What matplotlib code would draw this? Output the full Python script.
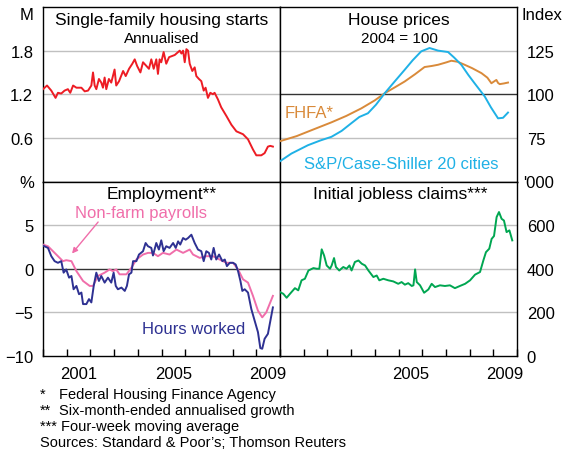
import numpy as np
import matplotlib
matplotlib.use('Agg')
import matplotlib.pyplot as plt

plt.rcParams['font.family'] = ['Liberation Sans', 'DejaVu Sans']

# ---- data: time in years since Jan 2000 ----
starts_t = [0, 0.17, 0.35, 0.53, 0.63, 0.77, 0.91, 1.05, 1.15, 1.27, 1.41, 1.62, 1.76, 1.90, 2.04,
            2.11, 2.18, 2.25, 2.36, 2.46, 2.53, 2.60, 2.67, 2.78, 2.88, 3.02, 3.09, 3.21, 3.38, 3.49,
            3.63, 3.77, 3.87, 3.97, 4.11, 4.22, 4.36, 4.47, 4.57, 4.67, 4.78, 4.85, 4.92, 4.99, 5.09,
            5.20, 5.32, 5.56, 5.70, 5.77, 5.84, 5.91, 5.98, 6.05, 6.12, 6.19, 6.30, 6.40, 6.47, 6.58,
            6.68, 6.78, 6.86, 6.96, 7.06, 7.17, 7.24, 7.38, 7.52, 7.74, 7.95, 8.16, 8.44, 8.65, 8.86,
            9.00, 9.21, 9.35, 9.49, 9.59, 9.70]
starts_v = [1.27, 1.32, 1.25, 1.15, 1.22, 1.21, 1.25, 1.27, 1.22, 1.32, 1.29, 1.29, 1.24, 1.25, 1.32,
            1.50, 1.32, 1.27, 1.41, 1.36, 1.29, 1.43, 1.27, 1.41, 1.36, 1.54, 1.32, 1.38, 1.52, 1.45,
            1.55, 1.62, 1.68, 1.59, 1.50, 1.64, 1.59, 1.55, 1.68, 1.55, 1.68, 1.48, 1.68, 1.64, 1.78,
            1.62, 1.71, 1.74, 1.78, 1.80, 1.76, 1.80, 1.64, 1.82, 1.80, 1.62, 1.52, 1.57, 1.45, 1.41,
            1.38, 1.25, 1.29, 1.15, 1.22, 1.20, 1.22, 1.13, 1.02, 0.90, 0.78, 0.69, 0.65, 0.58, 0.44,
            0.36, 0.36, 0.39, 0.48, 0.49, 0.48]

fhfa_t = [0, 0.7, 1.33, 2.17, 2.8, 3.43, 4.0, 4.42, 4.85, 5.26,
          5.7, 6.1, 6.4, 6.67, 7.0, 7.23, 7.5, 7.79, 8.1, 8.5,
          8.75, 8.92, 9.05, 9.13, 9.2, 9.27, 9.45, 9.62]
fhfa_v = [73.1, 76.0, 79.4, 83.9, 87.6, 91.9, 96.5, 100.6, 104.0, 107.3,
          111.5, 115.6, 116.2, 116.9, 118.2, 119.2, 118.6, 116.9, 115.0, 112.1,
          109.5, 106.3, 107.5, 108.2, 106.5, 105.8, 106.2, 106.7]

cs_t = [0, 0.48, 1.18, 1.7, 2.17, 2.6, 3.0, 3.35, 3.71, 4.05,
        4.42, 4.85, 5.26, 5.6, 5.96, 6.31, 6.67, 7.09, 7.35, 7.65,
        7.95, 8.21, 8.64, 8.9, 9.2, 9.41, 9.62]
cs_v = [61.6, 66.0, 70.8, 73.5, 75.6, 79.0, 83.3, 87.0, 89.1, 94.0,
        100.6, 107.5, 114.0, 119.5, 124.6, 126.5, 125.0, 124.2, 121.0, 116.9,
        111.0, 106.3, 98.7, 92.5, 86.2, 86.5, 89.5]

nfp_t = [0, 0.21, 0.42, 0.63, 0.84, 0.98, 1.20, 1.41, 1.69, 1.97, 2.11, 2.32, 2.60, 2.81, 2.95,
         3.09, 3.23, 3.52, 3.73, 3.94, 4.22, 4.43, 4.64, 4.85, 5.06, 5.34, 5.63, 5.91, 6.19, 6.33,
         6.61, 6.89, 7.17, 7.45, 7.74, 8.02, 8.23, 8.44, 8.65, 8.86, 9.07, 9.25, 9.42, 9.70]
nfp_v = [2.77, 2.58, 2.01, 1.44, 0.87, 0.98, 0.87, -0.27, -1.40, -1.97, -1.97, -0.83, -0.45, -0.08, -0.27,
         -0.08, -0.64, -0.64, 0.11, 1.06, 1.63, 1.82, 1.82, 1.44, 1.82, 1.63, 2.20, 1.82, 2.20, 1.63,
         1.25, 1.44, 1.44, 1.06, 0.68, 0.68, -0.08, -1.21, -1.59, -3.11, -4.81, -5.57, -5.00, -3.11]

hours_t = [0, 0.21, 0.35, 0.49, 0.63, 0.77, 0.87, 0.98, 1.10, 1.20, 1.29, 1.41, 1.52, 1.62, 1.69,
           1.83, 1.94, 2.04, 2.14, 2.25, 2.36, 2.46, 2.60, 2.74, 2.88, 2.98, 3.07, 3.16, 3.31, 3.45,
           3.54, 3.63, 3.73, 3.80, 3.94, 4.05, 4.22, 4.33, 4.43, 4.57, 4.64, 4.78, 4.89, 4.99, 5.09,
           5.20, 5.34, 5.49, 5.60, 5.70, 5.79, 5.91, 6.02, 6.12, 6.26, 6.40, 6.54, 6.68, 6.78, 6.89,
           7.00, 7.10, 7.20, 7.31, 7.43, 7.57, 7.67, 7.76, 7.88, 8.02, 8.13, 8.23, 8.33, 8.41, 8.51,
           8.65, 8.79, 8.93, 9.07, 9.17, 9.25, 9.35, 9.49, 9.70]
hours_v = [2.65, 2.39, 1.44, 0.87, 0.68, 0.87, -0.45, -0.08, -1.02, -0.83, -2.35, -1.97, -2.92, -2.73, -4.05,
           -4.05, -3.48, -3.86, -1.97, -0.45, -1.40, -0.83, -1.59, -1.02, -1.59, -0.45, -1.97, -2.35, -2.16, -2.54,
           -1.97, -0.64, -0.45, 0.87, 0.87, 1.63, 2.01, 2.95, 2.58, 2.39, 1.52, 2.95, 2.20, 3.26, 2.01,
           2.58, 2.39, 2.95, 2.39, 3.14, 2.77, 3.52, 3.33, 3.52, 3.90, 2.95, 2.20, 2.01, 0.87, 2.01,
           1.82, 1.06, 2.39, 1.06, 1.63, 0.87, 1.06, 0.30, 0.68, 0.68, 0.49, -0.27, -1.40, -2.54, -2.35,
           -2.73, -4.62, -5.95, -7.27, -9.09, -9.17, -8.03, -7.46, -4.43]

claims_t = [0, 0.14, 0.28, 0.42, 0.63, 0.77, 0.91, 1.05, 1.20, 1.41, 1.55, 1.66, 1.76, 1.86, 1.97,
            2.11, 2.18, 2.28, 2.36, 2.50, 2.67, 2.81, 2.93, 3.02, 3.16, 3.31, 3.45, 3.59, 3.73, 3.94,
            4.08, 4.19, 4.36, 4.57, 4.78, 4.99, 5.13, 5.27, 5.41, 5.56, 5.63, 5.70, 5.77, 5.91, 6.08,
            6.26, 6.40, 6.54, 6.75, 6.96, 7.17, 7.38, 7.59, 7.81, 8.02, 8.23, 8.44, 8.58, 8.69, 8.83,
            8.93, 9.03, 9.14, 9.24, 9.35, 9.45, 9.56, 9.68, 9.80]
claims_v = [293, 285, 267, 285, 311, 301, 347, 354, 392, 403, 400, 400, 489, 461, 415,
            400, 415, 449, 408, 392, 408, 400, 415, 392, 431, 438, 423, 415, 392, 362,
            369, 347, 354, 347, 342, 331, 339, 327, 334, 321, 324, 397, 339, 324, 290,
            305, 331, 316, 324, 321, 324, 311, 321, 331, 347, 373, 385, 438, 476, 492,
            537, 550, 637, 660, 629, 621, 568, 576, 530]

W, H = 566, 452
fig = plt.figure(figsize=(W / 100, H / 100), dpi=100)


def box(x0, y0, x1, y1):
    return [x0 / W, 1 - y1 / H, (x1 - x0) / W, (y1 - y0) / H]


def ftext(x, y, s, **kw):
    fig.text(x / W, 1 - y / H, s, **kw)


def yrs(t):
    return 2000 + np.asarray(t)


XL, XM, XR = 43, 280, 517
YT, YM, YB = 8, 182.5, 357
GRID = '#c0c0c0'

ax1 = fig.add_axes(box(XL, YT, XM, YM))
ax2 = fig.add_axes(box(XM, YT, XR, YM))
ax3 = fig.add_axes(box(XL, YM, XM, YB))
ax4 = fig.add_axes(box(XM, YM, XR, YB))

for ax in (ax1, ax2, ax3, ax4):
    ax.set_xlim(2000, 2010)
    for sp in ax.spines.values():
        sp.set_linewidth(1.0)
    ax.tick_params(axis='y', length=0, labelsize=12, pad=7)

# y scales
ax1.set_ylim(0, 2.4)
ax1.set_yticks([0.6, 1.2, 1.8])
ax1.set_yticklabels(['0.6', '1.2', '1.8'])
ax2.set_ylim(50, 150)
ax2.set_yticks([75, 100, 125])
ax3.set_ylim(-10, 10)
ax3.set_yticks([-10, -5, 0, 5])
ax4.set_ylim(0, 800)
ax4.set_yticks([0, 200, 400, 600])
for ax in (ax2, ax4):
    ax.yaxis.tick_right()

# gridlines
for v in [0.6, 1.2, 1.8]:
    ax1.axhline(v, color=GRID, lw=1.0, zorder=1)
for v, c in [(75, GRID), (100, '#333333'), (125, GRID)]:
    ax2.axhline(v, color=c, lw=1.0, zorder=1)
for v, c in [(-5, GRID), (0, '#333333'), (5, GRID)]:
    ax3.axhline(v, color=c, lw=1.0, zorder=1)
for v in [200, 400, 600]:
    ax4.axhline(v, color=GRID, lw=1.0, zorder=1)

# x ticks
for ax in (ax1, ax2):
    ax.set_xticks([])
for ax in (ax3, ax4):
    ax.set_xticks(np.arange(2000, 2011))
    ax.set_xticklabels([])
    ax.tick_params(axis='x', which='major', direction='in', length=5, width=1.0)
    ax.set_xticks([2001.5, 2005.5, 2009.5], minor=True)
    ax.set_xticklabels(['2001', '2005', '2009'], minor=True)
    ax.tick_params(axis='x', which='minor', length=0, labelsize=12, pad=7)
ax4.set_xticklabels(['', '2005', '2009'], minor=True)

# lines
LW = 1.4
ax1.plot(yrs(starts_t), starts_v, color='#ed1c24', lw=LW, zorder=3)
ax2.plot(yrs(fhfa_t), fhfa_v, color='#d98a3a', lw=LW, zorder=3)
ax2.plot(yrs(cs_t), cs_v, color='#1fb1e6', lw=LW, zorder=3)
ax3.plot(yrs(nfp_t), nfp_v, color='#f06eaa', lw=LW, zorder=3)
ax3.plot(yrs(hours_t), hours_v, color='#2e3192', lw=LW, zorder=4)
ax4.plot(yrs(claims_t), claims_v, color='#00a651', lw=LW, zorder=3)

# titles
ftext(162, 20, 'Single-family housing starts', ha='center', va='center', fontsize=12.5)
ftext(162, 39, 'Annualised', ha='center', va='center', fontsize=11)
ftext(399, 20, 'House prices', ha='center', va='center', fontsize=12.5)
ftext(399, 39, '2004 = 100', ha='center', va='center', fontsize=11)
ftext(162, 195, 'Employment**', ha='center', va='center', fontsize=12.5)
ftext(400, 195, 'Initial jobless claims***', ha='center', va='center', fontsize=12.5)

# units
ftext(27, 15, 'M', ha='center', va='center', fontsize=12)
ftext(27, 184, '%', ha='center', va='center', fontsize=12)
ftext(542, 15, 'Index', ha='center', va='center', fontsize=12)
ftext(539, 184, "'000", ha='center', va='center', fontsize=12)

# series labels
ftext(285, 113, 'FHFA*', ha='left', va='center', fontsize=12, color='#d98a3a')
ftext(401, 165, 'S&P/Case-Shiller 20 cities', ha='center', va='center', fontsize=12, color='#1fb1e6')
ftext(141, 214, 'Non-farm payrolls', ha='center', va='center', fontsize=12, color='#f06eaa')
ftext(194, 330, 'Hours worked', ha='center', va='center', fontsize=12, color='#2e3192')
ax3.annotate('', xy=(2001.15, 1.5), xytext=(2002.4, 5.6),
             arrowprops=dict(arrowstyle='-|>', color='#f06eaa', lw=1.0, mutation_scale=8))

# footnotes
ftext(40, 395, '*', ha='left', va='center', fontsize=10.5)
ftext(59, 395, 'Federal Housing Finance Agency', ha='left', va='center', fontsize=10.5)
ftext(40, 411, '**', ha='left', va='center', fontsize=10.5)
ftext(59, 411, 'Six-month-ended annualised growth', ha='left', va='center', fontsize=10.5)
ftext(40, 427, '*** Four-week moving average', ha='left', va='center', fontsize=10.5)
ftext(40, 443, "Sources: Standard & Poor\u2019s; Thomson Reuters", ha='left', va='center', fontsize=10.5)

fig.savefig('out.png', dpi=100)
